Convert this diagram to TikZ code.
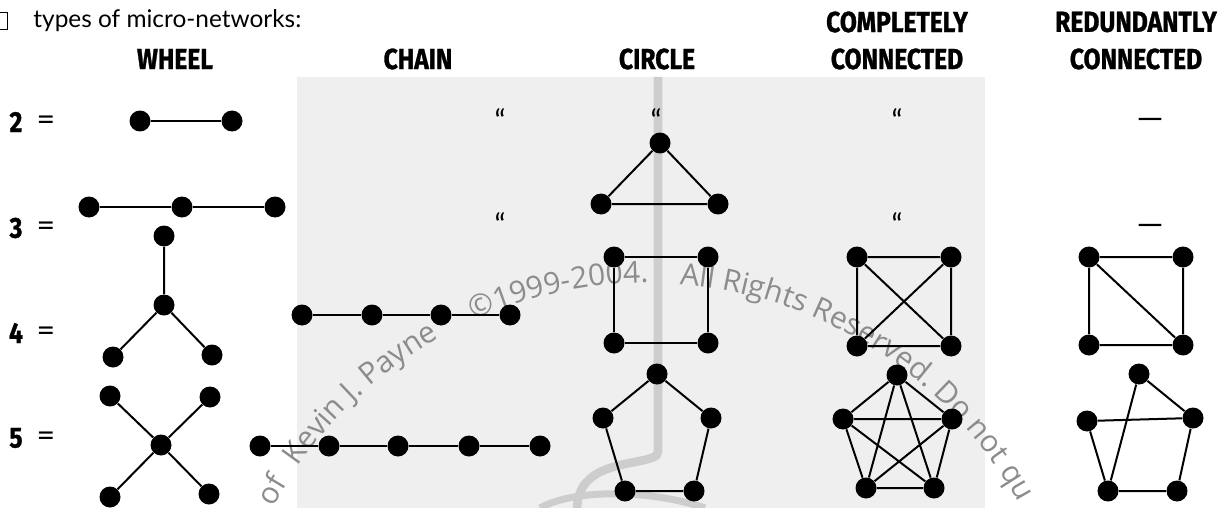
\documentclass[tikz,border=0pt]{standalone}
\usepackage{fontspec}
\setmainfont{Lato}
\newfontfamily\hdfont[BoldFeatures={FakeBold=1.2}]{Fira Sans}
\newfontfamily\wmfont{Open Sans}
\usetikzlibrary{decorations.text}
\definecolor{panel}{HTML}{EFEFEF}
\definecolor{barcol}{HTML}{CDCDCD}
\definecolor{wm}{HTML}{8C8C8C}

\begin{document}
\begin{tikzpicture}[x=0.5pt,y=-0.5pt,
  dot/.style={circle,fill=black,inner sep=0pt,minimum size=10.5pt},
  link/.style={line width=1pt},
  hd/.style={font=\hdfont\bfseries\fontsize{14.5}{18}\selectfont,align=center,inner sep=0pt},
  rowlbl/.style={font=\hdfont\bfseries\fontsize{14.5}{16}\selectfont,inner sep=0pt},
  eqs/.style={font=\fontsize{16}{18}\selectfont,inner sep=0pt},
  ditto/.style={font=\fontsize{15}{16}\selectfont,inner sep=0pt},
  nonemark/.style={font=\fontsize{17}{18}\selectfont,inner sep=0pt},
  wmtext/.style={decorate,decoration={text along path,text align=left,text color=wm}}]

\useasboundingbox (0,0) rectangle (1225,508);

% shaded backdrop behind the middle columns
\fill[panel] (297,77) rectangle (985,508);
\draw[barcol,line width=4.3pt] (658,77) -- (658,452)
  .. controls (658,462) and (625,460) .. (600,472)
  .. controls (585,480) and (578,490) .. (577,508);
\draw[barcol,line width=3.5pt] (540,508) .. controls (572,490) and (645,488) .. (705,508);

% copyright line set along an arc
\path[wmtext,decoration={text={|\wmfont\fontsize{15}{16}\selectfont|of}}]
  (273.5,507.4) arc[start angle=-152,end angle=-146,radius=423];
\path[wmtext,decoration={text={|\wmfont\fontsize{15}{16}\selectfont|Kevin J. Payne}}]
  (298,466.7) arc[start angle=-145.4,end angle=-114,radius=423];
\path[wmtext,decoration={text={|\wmfont\fontsize{15}{16}\selectfont|©1999-2004.}}]
  (474,320) arc[start angle=-114.2,end angle=-88,radius=423];
\path[wmtext,decoration={text={|\wmfont\fontsize{15}{16}\selectfont|All Rights Reserved. Do not qu}}]
  (679.5,284.2) arc[start angle=-85.6,end angle=-15,radius=423];

% title and column headings
\draw[line width=0.4pt] (-1,12) rectangle (7,29);
\node[anchor=base west,font=\fontsize{12.2}{14}\selectfont,inner sep=0pt] (title) at (33,28) {types of micro-networks:};
\node[hd] (hwheel) at (175,59) {\scalebox{0.85}[1]{WHEEL}};
\node[hd] (hchain) at (418,59) {\scalebox{0.85}[1]{CHAIN}};
\node[hd] (hcircle) at (657,59) {\scalebox{0.85}[1]{CIRCLE}};
\node[hd] (hcomp1) at (897,22) {\scalebox{0.85}[1]{COMPLETELY}};
\node[hd] (hcomp2) at (897,59) {\scalebox{0.85}[1]{CONNECTED}};
\node[hd] (hred1) at (1136,22) {\scalebox{0.85}[1]{REDUNDANTLY}};
\node[hd] (hred2) at (1136,59) {\scalebox{0.85}[1]{CONNECTED}};

% row labels
\foreach \n/\y in {2/122,3/228,4/333,5/438}{
  \node[rowlbl] (r\n) at (16,\y) {\scalebox{0.85}[1]{\n}};
  \node[eqs] (e\n) at (46,\y+1) {=};
}

% ditto marks and dashes
\node[ditto] (d1) at (500,120) {“};
\node[ditto] (d2) at (500,224) {“};
\node[ditto] (d3) at (656,120) {“};
\node[ditto] (d4) at (897,120) {“};
\node[ditto] (d5) at (897,224) {“};
\node[nonemark] (m1) at (1150,124) {—};
\node[nonemark] (m2) at (1150,230) {—};

% wheel
\node[dot] (w2a) at (140,121) {};
\node[dot] (w2b) at (232,121) {};
\draw[link] (w2a) -- (w2b);
\node[dot] (w3a) at (89,207) {};
\node[dot] (w3b) at (182,207) {};
\node[dot] (w3c) at (275,207) {};
\draw[link] (w3a) -- (w3b) -- (w3c);
\node[dot] (w4t) at (164,236) {};
\node[dot] (w4c) at (164,305) {};
\node[dot] (w4l) at (113,357) {};
\node[dot] (w4r) at (212,355) {};
\draw[link] (w4t) -- (w4c) (w4c) -- (w4l) (w4c) -- (w4r);
\node[dot] (w5c) at (161,445) {};
\node[dot] (w5a) at (110,396) {};
\node[dot] (w5b) at (210,397) {};
\node[dot] (w5d) at (110,497) {};
\node[dot] (w5e) at (209,494) {};
\foreach \t in {w5a,w5b,w5d,w5e} \draw[link] (w5c) -- (\t);

% chain
\node[dot] (c4a) at (302,315) {};
\node[dot] (c4b) at (372,315) {};
\node[dot] (c4c) at (441,315) {};
\node[dot] (c4d) at (510,315) {};
\draw[link] (c4a) -- (c4b) -- (c4c) -- (c4d);
\node[dot] (c5a) at (260,446) {};
\node[dot] (c5b) at (329,446) {};
\node[dot] (c5c) at (398,446) {};
\node[dot] (c5d) at (469,446) {};
\node[dot] (c5e) at (540,446) {};
\draw[link] (c5a) -- (c5b) -- (c5c) -- (c5d) -- (c5e);

% circle
\node[dot] (o3t) at (660,143) {};
\node[dot] (o3l) at (601,204) {};
\node[dot] (o3r) at (718,204) {};
\draw[link] (o3t) -- (o3l) -- (o3r) -- (o3t);
\node[dot] (o4a) at (614,257) {};
\node[dot] (o4b) at (708,257) {};
\node[dot] (o4c) at (708,343) {};
\node[dot] (o4d) at (614,343) {};
\draw[link] (o4a) -- (o4b) -- (o4c) -- (o4d) -- (o4a);
\node[dot] (o5t) at (657,374) {};
\node[dot] (o5r) at (711,418) {};
\node[dot] (o5br) at (694,491) {};
\node[dot] (o5bl) at (625,491) {};
\node[dot] (o5l) at (603,418) {};
\draw[link] (o5t) -- (o5r) -- (o5br) -- (o5bl) -- (o5l) -- (o5t);

% completely connected
\node[dot] (k4a) at (857,257) {};
\node[dot] (k4b) at (951,257) {};
\node[dot] (k4c) at (951,346) {};
\node[dot] (k4d) at (857,346) {};
\draw[link] (k4a) -- (k4b) -- (k4c) -- (k4d) -- (k4a) (k4a) -- (k4c) (k4b) -- (k4d);
\node[dot] (k5t) at (897,375) {};
\node[dot] (k5r) at (952,419) {};
\node[dot] (k5br) at (934,488) {};
\node[dot] (k5bl) at (866,488) {};
\node[dot] (k5l) at (843,419) {};
\draw[link] (k5t) -- (k5r) -- (k5br) -- (k5bl) -- (k5l) -- (k5t);
\draw[link] (k5t) -- (k5br) (k5t) -- (k5bl) (k5l) -- (k5r) (k5l) -- (k5br) (k5r) -- (k5bl);

% redundantly connected
\node[dot] (q4a) at (1089,257) {};
\node[dot] (q4b) at (1183,257) {};
\node[dot] (q4c) at (1183,345) {};
\node[dot] (q4d) at (1089,345) {};
\draw[link] (q4a) -- (q4b) -- (q4c) -- (q4d) -- (q4a) (q4a) -- (q4c);
\node[dot] (q5t) at (1139,374) {};
\node[dot] (q5r) at (1193,418) {};
\node[dot] (q5br) at (1177,491) {};
\node[dot] (q5bl) at (1108,491) {};
\node[dot] (q5l) at (1087,421) {};
\draw[link] (q5t) -- (q5r) -- (q5br) -- (q5bl) -- (q5l) -- (q5r) (q5t) -- (q5bl);
\end{tikzpicture}
\end{document}
